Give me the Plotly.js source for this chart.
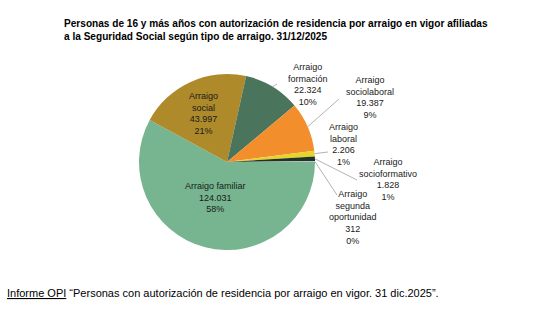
<!DOCTYPE html>
<html>
<head>
<meta charset="utf-8">
<script src="https://cdn.plot.ly/plotly-3.0.1.min.js"></script>
<style>
  html, body { margin: 0; padding: 0; background: #ffffff; }
  #chart { width: 544px; height: 323px; }
</style>
</head>
<body>
<div id="chart"></div>
<script>
// ---- Data ----
const categories = [
  "Arraigo familiar",
  "Arraigo social",
  "Arraigo formación",
  "Arraigo sociolaboral",
  "Arraigo laboral",
  "Arraigo socioformativo",
  "Arraigo segunda oportunidad"
];
const labelLines = [
  "Arraigo familiar",
  "Arraigo<br>social",
  "Arraigo<br>formación",
  "Arraigo<br>sociolaboral",
  "Arraigo<br>laboral",
  "Arraigo<br>socioformativo",
  "Arraigo<br>segunda<br>oportunidad"
];
const values = [124031, 43997, 22324, 19387, 2206, 1828, 312];
const colors = ["#76b58f", "#ae8a2b", "#4a745c", "#f28e2b", "#e8d22c", "#1e3427", "#c4c4c4"];

const titleText = "<b>Personas de 16 y más años con autorización de residencia por arraigo en vigor afiliadas<br>a la Seguridad Social según tipo de arraigo. 31/12/2025</b>";
const footerText = "<u>Informe OPI</u> “Personas con autorización de residencia por arraigo en vigor. 31 dic.2025”.";

// ---- Layout constants (pixels) ----
const W = 544, H = 323;
const CX = 227, CY = 162, R = 88;
// label centres (px) and leader-line ends (px; null = no leader)
const labelPos = [[215, 197], [203, 113], [308, 85], [370, 98], [343, 144], [388, 179], [353, 217]];
const leaderEnd = [null, null, [277, 84], [339, 99], [328, 152], [357, 180], [337, 195]];

const px = x => x / W;
const py = y => 1 - y / H;
const fmt = n => String(n).replace(/\B(?=(\d{3})+(?!\d))/g, ".");

const total = values.reduce((a, b) => a + b, 0);

const trace = {
  type: "pie",
  labels: categories,
  values: values,
  sort: false,
  direction: "clockwise",
  rotation: 90,
  marker: { colors: colors, line: { width: 0 } },
  textinfo: "none",
  hoverinfo: "skip",
  showlegend: false,
  domain: { x: [px(CX - R), px(CX + R)], y: [py(CY + R), py(CY - R)] }
};

const annotations = [];
const shapes = [];
let cum = 0;
values.forEach((v, i) => {
  const mid = 90 + (cum + v / 2) / total * 360; // compass degrees, clockwise from north
  cum += v;
  const pct = Math.round(v / total * 100) + "%";
  annotations.push({
    xref: "paper", yref: "paper",
    x: px(labelPos[i][0]), y: py(labelPos[i][1]),
    xanchor: "center", yanchor: "middle",
    text: labelLines[i] + "<br>" + fmt(v) + "<br>" + pct,
    showarrow: false, align: "center",
    font: { family: "Liberation Sans, Arial, sans-serif", size: 9, color: "#1a1a1a" }
  });
  if (leaderEnd[i]) {
    const a = mid * Math.PI / 180;
    const sx = CX + R * Math.sin(a), sy = CY - R * Math.cos(a);
    shapes.push({
      type: "line", xref: "paper", yref: "paper",
      x0: px(sx), y0: py(sy), x1: px(leaderEnd[i][0]), y1: py(leaderEnd[i][1]),
      line: { color: "#b3b3b3", width: 1 }
    });
  }
});

annotations.push({
  xref: "paper", yref: "paper", x: px(62), y: py(30),
  xanchor: "left", yanchor: "middle", align: "left",
  text: titleText, showarrow: false,
  font: { family: "Liberation Sans, Arial, sans-serif", size: 10.1, color: "#000000" }
});
annotations.push({
  xref: "paper", yref: "paper", x: px(5), y: py(293),
  xanchor: "left", yanchor: "middle", align: "left",
  text: footerText, showarrow: false,
  font: { family: "Liberation Sans, Arial, sans-serif", size: 11, color: "#000000" }
});

const layout = {
  width: W, height: H,
  margin: { l: 0, r: 0, t: 0, b: 0 },
  paper_bgcolor: "#ffffff",
  plot_bgcolor: "#ffffff",
  showlegend: false,
  annotations: annotations,
  shapes: shapes
};

Plotly.newPlot("chart", [trace], layout, { displayModeBar: false, staticPlot: true });
</script>
</body>
</html>
